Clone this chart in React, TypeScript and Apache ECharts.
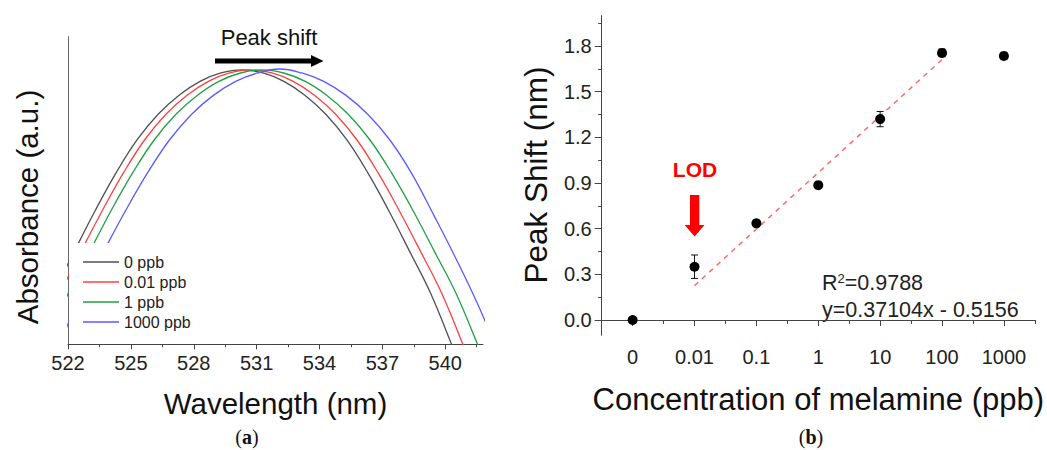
import React, { useEffect, useRef } from 'react';
import * as echarts from 'echarts';

// ---------- Panel (a): absorbance spectra ----------
const wavelengthTicks = [522, 525, 528, 531, 534, 537, 540];
const wavelengthMinorTicks = [523.5, 526.5, 529.5, 532.5, 535.5, 538.5, 541.5];

const spectrum0 = [
  [521.3, 0.166], [522.3, 0.302], [523.3, 0.435], [524.3, 0.558], [525.3, 0.665], [526.3, 0.748],
  [527.3, 0.81], [528.3, 0.855], [529.3, 0.882], [530.3, 0.892], [531.3, 0.882], [532.3, 0.855],
  [533.3, 0.81], [534.3, 0.748], [535.3, 0.665], [536.3, 0.558], [537.3, 0.435], [538.3, 0.302],
  [539.3, 0.166], [540.3, 0.0], [541.3, -0.17],
];
const spectrum001 = [
  [521.61, 0.166], [522.62, 0.302], [523.64, 0.435], [524.65, 0.558], [525.66, 0.665], [526.67, 0.748],
  [527.68, 0.81], [528.7, 0.855], [529.71, 0.882], [530.72, 0.892], [531.73, 0.882], [532.74, 0.855],
  [533.76, 0.81], [534.77, 0.748], [535.78, 0.665], [536.79, 0.558], [537.8, 0.435], [538.82, 0.302],
  [539.83, 0.166], [540.84, 0.0], [541.85, -0.17],
];
const spectrum1 = [
  [520.98, 0.0], [522.01, 0.166], [523.04, 0.302], [524.06, 0.435], [525.09, 0.558], [526.12, 0.665],
  [527.15, 0.748], [528.18, 0.81], [529.2, 0.855], [530.23, 0.882], [531.26, 0.892], [532.29, 0.882],
  [533.32, 0.855], [534.34, 0.81], [535.37, 0.748], [536.4, 0.665], [537.43, 0.558], [538.46, 0.435],
  [539.48, 0.302], [540.51, 0.166], [541.54, 0.0], [542.57, -0.17],
];
const spectrum1000 = [
  [521.6, 0.0], [522.65, 0.166], [523.7, 0.302], [524.75, 0.435], [525.8, 0.558], [526.85, 0.665],
  [527.9, 0.748], [528.95, 0.81], [530.0, 0.855], [531.05, 0.882], [532.1, 0.895], [533.15, 0.882],
  [534.2, 0.855], [535.25, 0.81], [536.3, 0.748], [537.35, 0.665], [538.4, 0.555], [539.45, 0.42],
  [540.5, 0.28], [541.55, 0.13], [542.6, -0.04],
];
const spectrumNames = ['0 ppb', '0.01 ppb', '1 ppb', '1000 ppb'];
const spectrumColors = ['#505050', '#ff4040', '#1fa044', '#5a5aff'];
const spectra = [spectrum0, spectrum001, spectrum1, spectrum1000];

// ---------- Panel (b): peak shift vs concentration ----------
const concentrations = ['0', '0.01', '0.1', '1', '10', '100', '1000'];
const peakShift = [0.0, 0.35, 0.635, 0.886, 1.32, 1.755, 1.735];
const peakShiftError = [0.01, 0.077, 0.02, 0.015, 0.05, 0.025, 0.02];
const fitCategories = ['0.01', '100'];
const fitValues = [0.226, 1.711];
const shiftTicks = [0, 0.3, 0.6, 0.9, 1.2, 1.5, 1.8];
const shiftMinorTicks = [0.15, 0.45, 0.75, 1.05, 1.35, 1.65, 1.95];

const FONT = '"Liberation Sans", Arial, sans-serif';
const AXIS_COLOR = '#444';
const TEXT_COLOR = '#111';

export default function App() {
  const ref = useRef<HTMLDivElement>(null);

  useEffect(() => {
    if (!ref.current) return;
    const chart = echarts.init(ref.current, undefined, { renderer: 'svg' });

    const labelStyle = { fontSize: 20, color: '#222', fontFamily: FONT };

    const option: any = {
      animation: false,
      backgroundColor: '#fff',
      grid: [
        { left: 68, top: 36.7, width: 415, height: 307.6 },
        { left: 601.7, top: 15.6, width: 435.6, height: 319.6 },
      ],
      xAxis: [
        {
          type: 'value', gridIndex: 0, position: 'bottom', min: 522, max: 541.8,
          axisLine: { show: true, lineStyle: { color: AXIS_COLOR, width: 1 } },
          axisTick: { show: true, customValues: wavelengthTicks, length: 5, lineStyle: { color: AXIS_COLOR } },
          axisLabel: { customValues: wavelengthTicks, margin: 9, ...labelStyle },
          splitLine: { show: false },
          name: 'Wavelength (nm)', nameLocation: 'middle', nameGap: 44,
          nameTextStyle: { fontSize: 29.5, color: TEXT_COLOR, fontFamily: FONT },
        },
        {
          type: 'value', gridIndex: 0, position: 'bottom', min: 522, max: 541.8,
          axisLine: { show: false },
          axisTick: { show: true, customValues: wavelengthMinorTicks, length: 3, lineStyle: { color: AXIS_COLOR } },
          axisLabel: { show: false },
          splitLine: { show: false },
        },
        {
          type: 'category', gridIndex: 1, position: 'bottom', data: concentrations, boundaryGap: true,
          axisLine: { show: true, lineStyle: { color: AXIS_COLOR, width: 1 } },
          axisTick: { show: true, alignWithLabel: true, interval: 0, length: 6, lineStyle: { color: AXIS_COLOR } },
          axisLabel: { interval: 0, margin: 12, ...labelStyle },
          splitLine: { show: false },
          name: 'Concentration of melamine (ppb)', nameLocation: 'middle', nameGap: 49,
          nameTextStyle: { fontSize: 31, color: TEXT_COLOR, fontFamily: FONT },
        },
        {
          type: 'category', gridIndex: 1, position: 'bottom', data: concentrations, boundaryGap: true,
          axisLine: { show: false },
          axisTick: { show: true, alignWithLabel: false, interval: 0, length: 4, lineStyle: { color: AXIS_COLOR } },
          axisLabel: { show: false },
          splitLine: { show: false },
        },
      ],
      yAxis: [
        {
          type: 'value', gridIndex: 0, position: 'left', min: 0, max: 1,
          axisLine: { show: true, lineStyle: { color: '#666', width: 1 } },
          axisTick: { show: false },
          axisLabel: { show: false },
          splitLine: { show: false },
        },
        {
          type: 'value', gridIndex: 1, position: 'left', min: -0.1, max: 2.0,
          axisLine: { show: true, lineStyle: { color: AXIS_COLOR, width: 1 } },
          axisTick: { show: true, customValues: shiftTicks, length: 7, lineStyle: { color: AXIS_COLOR } },
          axisLabel: { customValues: shiftTicks, margin: 10, formatter: (v: number) => v.toFixed(1), ...labelStyle },
          splitLine: { show: false },
        },
        {
          type: 'value', gridIndex: 1, position: 'left', min: -0.1, max: 2.0,
          axisLine: { show: false },
          axisTick: { show: true, customValues: shiftMinorTicks, length: 3.5, lineStyle: { color: AXIS_COLOR } },
          axisLabel: { show: false },
          splitLine: { show: false },
        },
      ],
      legend: {
        data: spectrumNames,
        orient: 'vertical',
        left: 69,
        top: 243,
        backgroundColor: '#fff',
        padding: [11, 22, 13, 14],
        icon: 'rect',
        itemWidth: 36,
        itemHeight: 1.5,
        itemGap: 4,
        textStyle: { fontSize: 16, color: '#222', fontFamily: FONT, lineHeight: 16 },
      },
      series: [
        ...spectra.map((d, i) => ({
          type: 'line',
          name: spectrumNames[i],
          xAxisIndex: 0,
          yAxisIndex: 0,
          data: d,
          smooth: 0.4,
          symbol: 'none',
          lineStyle: { color: spectrumColors[i], width: 1.3 },
          itemStyle: { color: spectrumColors[i] },
          z: 2,
        })),
        {
          type: 'line',
          name: 'Linear fit',
          xAxisIndex: 2,
          yAxisIndex: 1,
          data: fitCategories.map((c, i) => [c, fitValues[i]]),
          symbol: 'none',
          lineStyle: { color: '#ff6a6a', width: 1.5, type: [5, 5] },
          z: 1,
        },
        {
          type: 'custom',
          name: 'Error',
          xAxisIndex: 2,
          yAxisIndex: 1,
          data: concentrations.map((c, i) => [i, peakShift[i], peakShiftError[i]]),
          encode: { x: 0, y: 1 },
          renderItem: (params: any, api: any) => {
            const x = api.value(0);
            const y = api.value(1);
            const e = api.value(2);
            const hi = api.coord([x, y + e]);
            const lo = api.coord([x, y - e]);
            const w = 3.5;
            const st = { stroke: '#111', lineWidth: 1 };
            return {
              type: 'group',
              children: [
                { type: 'line', shape: { x1: hi[0], y1: hi[1], x2: lo[0], y2: lo[1] }, style: st },
                { type: 'line', shape: { x1: hi[0] - w, y1: hi[1], x2: hi[0] + w, y2: hi[1] }, style: st },
                { type: 'line', shape: { x1: lo[0] - w, y1: lo[1], x2: lo[0] + w, y2: lo[1] }, style: st },
              ],
            };
          },
          z: 2,
        },
        {
          type: 'scatter',
          name: 'Peak shift',
          xAxisIndex: 2,
          yAxisIndex: 1,
          data: concentrations.map((c, i) => [c, peakShift[i]]),
          symbol: 'circle',
          symbolSize: 10,
          itemStyle: { color: '#000', opacity: 1 },
          z: 3,
        },
      ],
      graphic: [
        {
          type: 'text', x: 27, y: 207, rotation: Math.PI / 2,
          style: { text: 'Absorbance (a.u.)', fontSize: 29.5, fontFamily: FONT, fill: TEXT_COLOR, align: 'center', verticalAlign: 'middle' },
        },
        {
          type: 'text', x: 536, y: 175, rotation: Math.PI / 2,
          style: { text: 'Peak Shift (nm)', fontSize: 31.5, fontFamily: FONT, fill: TEXT_COLOR, align: 'center', verticalAlign: 'middle' },
        },
        {
          type: 'text', x: 269, y: 37,
          style: { text: 'Peak shift', fontSize: 22, fontFamily: FONT, fill: TEXT_COLOR, align: 'center', verticalAlign: 'middle' },
        },
        {
          type: 'polygon',
          shape: { points: [[215, 58.5], [311, 58.5], [311, 55], [323.5, 61], [311, 67], [311, 63.5], [215, 63.5]] },
          style: { fill: '#000' },
        },
        {
          type: 'text', x: 695, y: 169,
          style: { text: 'LOD', fontSize: 21, fontWeight: 'bold', fontFamily: FONT, fill: '#ff0000', align: 'center', verticalAlign: 'middle' },
        },
        {
          type: 'polygon',
          shape: { points: [[690, 195], [699.3, 195], [699.3, 225], [704.5, 225], [694.6, 236.5], [684.7, 225], [690, 225]] },
          style: { fill: '#ff0000' },
        },
        {
          type: 'text', x: 822, y: 283,
          style: {
            text: '{a|R}{s|2}{a|=0.9788}',
            verticalAlign: 'middle',
            rich: {
              a: { fontSize: 21.5, fontFamily: FONT, fill: '#222', verticalAlign: 'bottom' },
              s: { fontSize: 13, fontFamily: FONT, fill: '#222', verticalAlign: 'top' },
            },
          },
        },
        {
          type: 'text', x: 822, y: 310,
          style: { text: 'y=0.37104x - 0.5156', fontSize: 21.5, fontFamily: FONT, fill: '#222', verticalAlign: 'middle' },
        },
        {
          type: 'text', x: 247, y: 437,
          style: {
            text: '{p|(}{b|a}{p|)}', align: 'center', verticalAlign: 'middle',
            rich: {
              p: { fontSize: 20, fontFamily: '"Liberation Serif", serif', fill: '#111' },
              b: { fontSize: 20, fontFamily: '"Liberation Serif", serif', fontWeight: 'bold', fill: '#111' },
            },
          },
        },
        {
          type: 'text', x: 811, y: 437,
          style: {
            text: '{p|(}{b|b}{p|)}', align: 'center', verticalAlign: 'middle',
            rich: {
              p: { fontSize: 20, fontFamily: '"Liberation Serif", serif', fill: '#111' },
              b: { fontSize: 20, fontFamily: '"Liberation Serif", serif', fontWeight: 'bold', fill: '#111' },
            },
          },
        },
      ],
    };

    chart.setOption(option);
    return () => chart.dispose();
  }, []);

  return (
    <div
      ref={ref}
      style={{ position: 'fixed', left: 0, top: 0, width: 1047, height: 450, background: '#fff' }}
    />
  );
}
